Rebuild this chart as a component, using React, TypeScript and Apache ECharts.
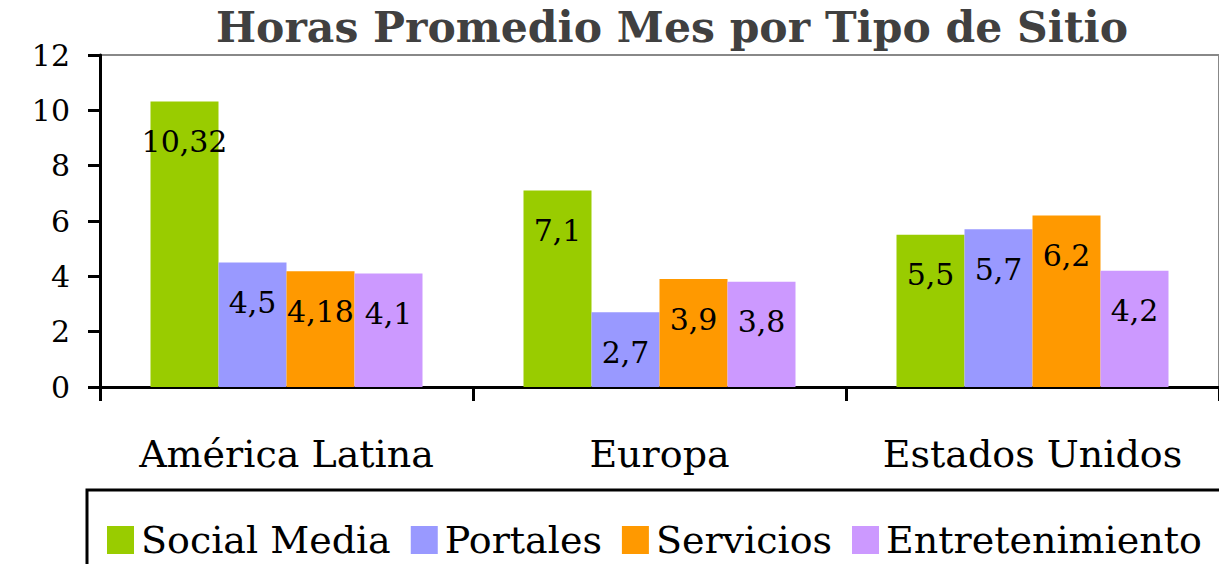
import React, { useEffect, useRef } from "react";
import * as echarts from "echarts";

const categories = ["América Latina", "Europa", "Estados Unidos"];
const seriesNames = ["Social Media", "Portales", "Servicios", "Entretenimiento"];
const socialMedia = [10.32, 7.1, 5.5];
const portales = [4.5, 2.7, 5.7];
const servicios = [4.18, 3.9, 6.2];
const entretenimiento = [4.1, 3.8, 4.2];
const colors = ["#99CC00", "#9999FF", "#FF9900", "#CC99FF"];
const yTicks = { min: 0, max: 12, interval: 2 };
const title = "Horas Promedio Mes por Tipo de Sitio";

const FONT = "DejaVu Serif";

export default function App() {
  const ref = useRef<HTMLDivElement>(null);
  useEffect(() => {
    if (!ref.current) return;
    const chart = echarts.init(ref.current, null, { renderer: "svg" });
    const values = [socialMedia, portales, servicios, entretenimiento];
    chart.setOption({
      animation: false,
      backgroundColor: "#ffffff",
      grid: {
        left: 100,
        top: 55,
        width: 1127,
        height: 332,
        show: true,
        borderColor: "#888888",
        borderWidth: 2,
        containLabel: false,
      },
      graphic: [
        {
          type: "text",
          x: 672,
          y: 5,
          style: {
            text: title,
            fontFamily: FONT,
            fontWeight: "bold",
            fontSize: 42.5,
            fill: "#404040",
            textAlign: "center",
            textVerticalAlign: "top",
          },
        },
        {
          type: "rect",
          shape: { x: 87, y: 490, width: 1200, height: 120 },
          style: { fill: "none", stroke: "#000000", lineWidth: 3 },
        },
      ],
      legend: {
        left: 102,
        top: 516,
        width: 1400,
        itemWidth: 27,
        itemHeight: 28,
        itemGap: 20,
        icon: "rect",
        data: seriesNames,
        textStyle: {
          fontFamily: FONT,
          fontSize: 38,
          color: "#000000",
          padding: [0, 0, 0, 2],
        },
      },
      xAxis: {
        type: "category",
        data: categories,
        boundaryGap: true,
        axisLine: { show: true, lineStyle: { color: "#000000", width: 3 } },
        axisTick: { show: true, alignWithLabel: false, length: 14, lineStyle: { color: "#000000", width: 3 } },
        axisLabel: {
          interval: 0,
          fontFamily: FONT,
          fontSize: 38,
          color: "#000000",
          margin: 48,
        },
        splitLine: { show: false },
      },
      yAxis: {
        type: "value",
        min: yTicks.min,
        max: yTicks.max,
        interval: yTicks.interval,
        axisLine: { show: true, lineStyle: { color: "#000000", width: 3 } },
        axisTick: { show: true, length: 12, inside: false, lineStyle: { color: "#000000", width: 3 } },
        axisLabel: {
          fontFamily: FONT,
          fontSize: 30,
          color: "#000000",
          margin: 30,
        },
        splitLine: { show: false },
      },
      series: seriesNames.map((name, i) => ({
        name,
        type: "bar",
        data: values[i],
        barWidth: 68,
        barGap: "0%",
        itemStyle: { color: colors[i] },
        label: {
          show: true,
          position: "insideTop",
          distance: 25,
          fontFamily: FONT,
          fontSize: 30,
          color: "#000000",
          formatter: (p: any) => String(p.value).replace(".", ","),
        },
      })),
    });
    return () => chart.dispose();
  }, []);
  return (
    <div
      ref={ref}
      style={{ position: "fixed", left: 0, top: 0, width: 1219, height: 564 }}
    />
  );
}
